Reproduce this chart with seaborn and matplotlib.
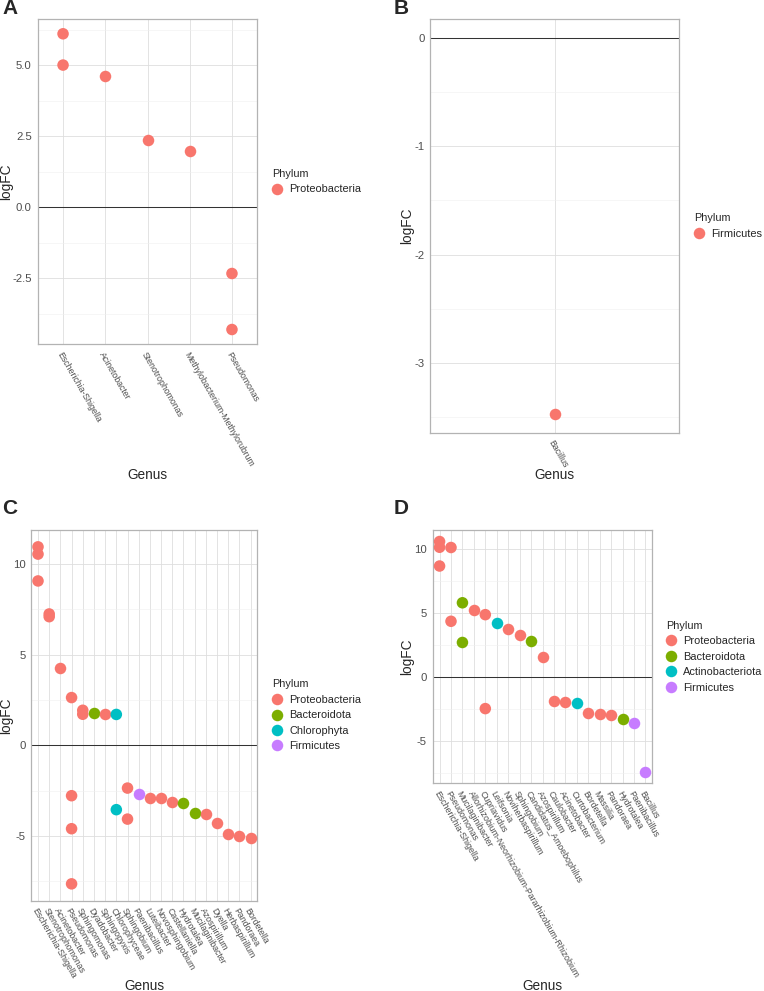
import numpy as np
import pandas as pd
import seaborn as sns
import matplotlib.pyplot as plt
from matplotlib.ticker import MultipleLocator, FormatStrFormatter

# panel A
genus_a = ["Escherichia-Shigella", "Escherichia-Shigella", "Acinetobacter", "Stenotrophomonas",
           "Methylobacterium-Methylorubrum", "Pseudomonas", "Pseudomonas"]
logfc_a = [6.1, 5.0, 4.61, 2.35, 1.99, -2.33, -4.3]
phylum_a = ["Proteobacteria"] * 7
order_a = ["Escherichia-Shigella", "Acinetobacter", "Stenotrophomonas",
           "Methylobacterium-Methylorubrum", "Pseudomonas"]
hue_a = ["Proteobacteria"]

# panel B
genus_b = ["Bacillus"]
logfc_b = [-3.47]
phylum_b = ["Firmicutes"]
order_b = ["Bacillus"]
hue_b = ["Firmicutes"]

# panel C
genus_c = ["Escherichia-Shigella", "Escherichia-Shigella", "Escherichia-Shigella",
           "Stenotrophomonas", "Stenotrophomonas", "Acinetobacter",
           "Pseudomonas", "Pseudomonas", "Pseudomonas", "Pseudomonas",
           "Sphingomonas", "Sphingomonas", "Dyadobacter", "Sphingopyxis",
           "Chlorophyceae", "Chlorophyceae", "Sphingobium", "Sphingobium",
           "Paenibacillus", "Luteibacter", "Novosphingobium", "Castellaniella",
           "Hydrotalea", "Mucilaginibacter", "Azospirillum", "Dyella",
           "Herbaspirillum", "Pandoraea", "Bordetella"]
logfc_c = [10.95, 10.55, 9.07,
           7.25, 7.1, 4.29,
           2.64, -2.77, -4.59, -7.63,
           1.94, 1.72, 1.78, 1.74,
           1.71, -3.54, -2.35, -4.06,
           -2.66, -2.92, -2.92, -3.12,
           -3.19, -3.74, -3.78, -4.29,
           -4.88, -4.99, -5.08]
phylum_c = ["Proteobacteria"] * 12 + ["Bacteroidota", "Proteobacteria",
           "Chlorophyta", "Chlorophyta", "Proteobacteria", "Proteobacteria",
           "Firmicutes", "Proteobacteria", "Proteobacteria", "Proteobacteria",
           "Bacteroidota", "Bacteroidota", "Proteobacteria", "Proteobacteria",
           "Proteobacteria", "Proteobacteria", "Proteobacteria"]
order_c = ["Escherichia-Shigella", "Stenotrophomonas", "Acinetobacter", "Pseudomonas",
           "Sphingomonas", "Dyadobacter", "Sphingopyxis", "Chlorophyceae", "Sphingobium",
           "Paenibacillus", "Luteibacter", "Novosphingobium", "Castellaniella", "Hydrotalea",
           "Mucilaginibacter", "Azospirillum", "Dyella", "Herbaspirillum", "Pandoraea", "Bordetella"]
hue_c = ["Proteobacteria", "Bacteroidota", "Chlorophyta", "Firmicutes"]

# panel D
genus_d = ["Escherichia-Shigella", "Escherichia-Shigella", "Escherichia-Shigella",
           "Pseudomonas", "Pseudomonas", "Mucilaginibacter", "Mucilaginibacter",
           "Allorhizobium-Neorhizobium-Pararhizobium-Rhizobium",
           "Cupriavidus", "Cupriavidus", "Leifsonia", "Noviherbaspirillum", "Sphingobium",
           "Candidatus_Amoebophilus", "Azospirillum", "Caulobacter", "Acinetobacter",
           "Curtobacterium", "Bordetella", "Massilia", "Pandoraea", "Hydrotalea",
           "Paenibacillus", "Bacillus"]
logfc_d = [10.6, 10.15, 8.68,
           10.13, 4.35, 5.8, 2.69,
           5.26,
           4.87, -2.49, 4.22, 3.78, 3.26,
           2.77, 1.53, -1.92, -1.94,
           -2.02, -2.82, -2.93, -3.03, -3.29,
           -3.6, -7.44]
phylum_d = ["Proteobacteria"] * 5 + ["Bacteroidota", "Bacteroidota", "Proteobacteria",
           "Proteobacteria", "Proteobacteria", "Actinobacteriota", "Proteobacteria", "Proteobacteria",
           "Bacteroidota", "Proteobacteria", "Proteobacteria", "Proteobacteria",
           "Actinobacteriota", "Proteobacteria", "Proteobacteria", "Proteobacteria", "Bacteroidota",
           "Firmicutes", "Firmicutes"]
order_d = ["Escherichia-Shigella", "Pseudomonas", "Mucilaginibacter",
           "Allorhizobium-Neorhizobium-Pararhizobium-Rhizobium", "Cupriavidus", "Leifsonia",
           "Noviherbaspirillum", "Sphingobium", "Candidatus_Amoebophilus", "Azospirillum",
           "Caulobacter", "Acinetobacter", "Curtobacterium", "Bordetella", "Massilia",
           "Pandoraea", "Hydrotalea", "Paenibacillus", "Bacillus"]
hue_d = ["Proteobacteria", "Bacteroidota", "Actinobacteriota", "Firmicutes"]

gg4 = ["#F8766D", "#7CAE00", "#00BFC4", "#C77CFF"]

sns.set_theme(style="white")
plt.rcParams['font.family'] = ['Liberation Sans', 'DejaVu Sans']
plt.rcParams['axes.unicode_minus'] = False

W, H = 764, 991
fig = plt.figure(figsize=(W / 100, H / 100), dpi=100)


def px_axes(x0, y0, x1, y1):
    return fig.add_axes([x0 / W, 1 - y1 / H, (x1 - x0) / W, (y1 - y0) / H])


def panel(box, genus, logfc, phylum, order, hue_order, step, fmt, legend_x, xlab_y, ylab_x, tag, tag_xy):
    ax = px_axes(*box)
    df = pd.DataFrame({"Genus": genus, "logFC": logfc, "Phylum": phylum})
    pal = dict(zip(hue_order, gg4[:len(hue_order)]))
    ax.axhline(0, color="#333333", lw=0.75, zorder=2)
    sns.stripplot(data=df, x="Genus", y="logFC", hue="Phylum", order=order, hue_order=hue_order,
                  palette=pal, jitter=False, size=8.3, linewidth=0, ax=ax, zorder=3)
    n = len(order)
    ax.set_xlim(-0.6, n - 0.4)
    lo = min(min(logfc), 0)
    hi = max(max(logfc), 0)
    pad = 0.05 * (hi - lo)
    ax.set_ylim(lo - pad, hi + pad)
    ax.yaxis.set_major_locator(MultipleLocator(step))
    ax.yaxis.set_minor_locator(MultipleLocator(step / 2))
    ax.yaxis.set_major_formatter(FormatStrFormatter(fmt))
    ax.grid(which="major", axis="both", color="#DEDEDE", lw=0.6, zorder=0)
    ax.grid(which="minor", axis="y", color="#EFEFEF", lw=0.4, zorder=0)
    ax.set_axisbelow(True)
    for s in ax.spines.values():
        s.set_color("#B3B3B3")
        s.set_linewidth(0.9)
    ax.tick_params(which="major", length=2.75, width=0.6, color="#B3B3B3", labelcolor="#4D4D4D", pad=1.5)
    ax.tick_params(which="minor", length=0)
    ax.tick_params(axis="y", labelsize=8.2)
    ax.tick_params(axis="x", labelsize=6.3)
    for t in ax.get_xticklabels():
        t.set_rotation(-60)
        t.set_ha("left")
        t.set_va("top")
        t.set_rotation_mode("anchor")
    x0, y0, x1, y1 = box
    ax.set_xlabel("Genus", fontsize=9.8)
    ax.xaxis.set_label_coords(0.5, (y1 - xlab_y) / (y1 - y0))
    ax.xaxis.label.set_va("center")
    ax.set_ylabel("logFC", fontsize=9.8)
    ax.yaxis.set_label_coords((ylab_x - x0) / (x1 - x0), 0.5)
    ax.yaxis.label.set_va("center")
    cy = (y0 + y1) / 2
    sns.move_legend(ax, loc="center left", bbox_to_anchor=(legend_x / W, 1 - cy / H),
                    bbox_transform=fig.transFigure, frameon=False, title="Phylum",
                    fontsize=7.9, title_fontsize=7.8, handletextpad=0.55, handlelength=1.0,
                    labelspacing=0.5, borderpad=0, borderaxespad=0, alignment="left", markerscale=1.0)
    fig.text(tag_xy[0] / W, 1 - tag_xy[1] / H, tag, fontsize=15, fontweight="bold", ha="left", va="center")
    return ax


panel((37.7, 19, 257.3, 344.3), genus_a, logfc_a, phylum_a, order_a, hue_a, 2.5, "%.1f",
      272, 475, 6, "A", (2, 8))
panel((430.3, 19, 679.3, 432.7), genus_b, logfc_b, phylum_b, order_b, hue_b, 1, "%g",
      694, 475, 407, "B", (394, 8))
panel((31.3, 530, 257.3, 900.7), genus_c, logfc_c, phylum_c, order_c, hue_c, 5, "%g",
      272, 985.7, 6, "C", (2, 509))
panel((432.7, 530, 652.3, 783.3), genus_d, logfc_d, phylum_d, order_d, hue_d, 5, "%g",
      666, 985.7, 407.3, "D", (394, 509))

fig.savefig("out.png", dpi=100)
